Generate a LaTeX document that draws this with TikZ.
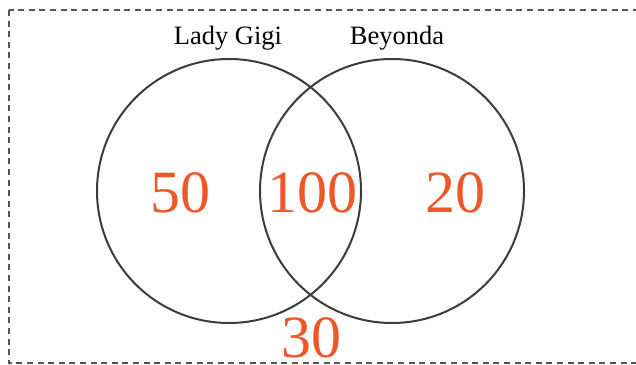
\documentclass[tikz,border=0pt]{standalone}
\usepackage{fontspec}
\setmainfont{Liberation Serif}
\definecolor{vnline}{RGB}{60,60,60}
\definecolor{vnorange}{RGB}{238,88,40}
\definecolor{vnframe}{RGB}{85,85,85}
\tikzset{
  setcircle/.style={draw=vnline, line width=2pt, circle, minimum size=264pt, inner sep=0pt},
  setlabel/.style={font=\fontsize{26.5}{30}\selectfont, text=black, inner sep=0pt},
  count/.style={font=\fontsize{60}{64}\selectfont, text=vnorange, inner sep=0pt}
}
\begin{document}
\begin{tikzpicture}[x=1pt, y=-1pt]
  \useasboundingbox (0,0) rectangle (636,364);
  % Frame
  \draw[vnframe, line width=2.2pt, dash pattern=on 6pt off 4.6pt] (9,10) rectangle (660,363);

  % Sets
  \node[setcircle] (gigi) at (229,191) {};
  \node[setcircle] (beyonda) at (392,191) {};
  \node[setlabel] (gigilabel) at (228,38) {Lady Gigi};
  \node[setlabel] (beyondalabel) at (397,38) {Beyonda};

  % Counts
  \node[count] (onlygigi) at (180,193) {50};
  \node[count] (both) at (312,193) {100};
  \node[count] (onlybeyonda) at (455,193) {20};
  \node[count] (neither) at (311,338) {30};
\end{tikzpicture}
\end{document}
